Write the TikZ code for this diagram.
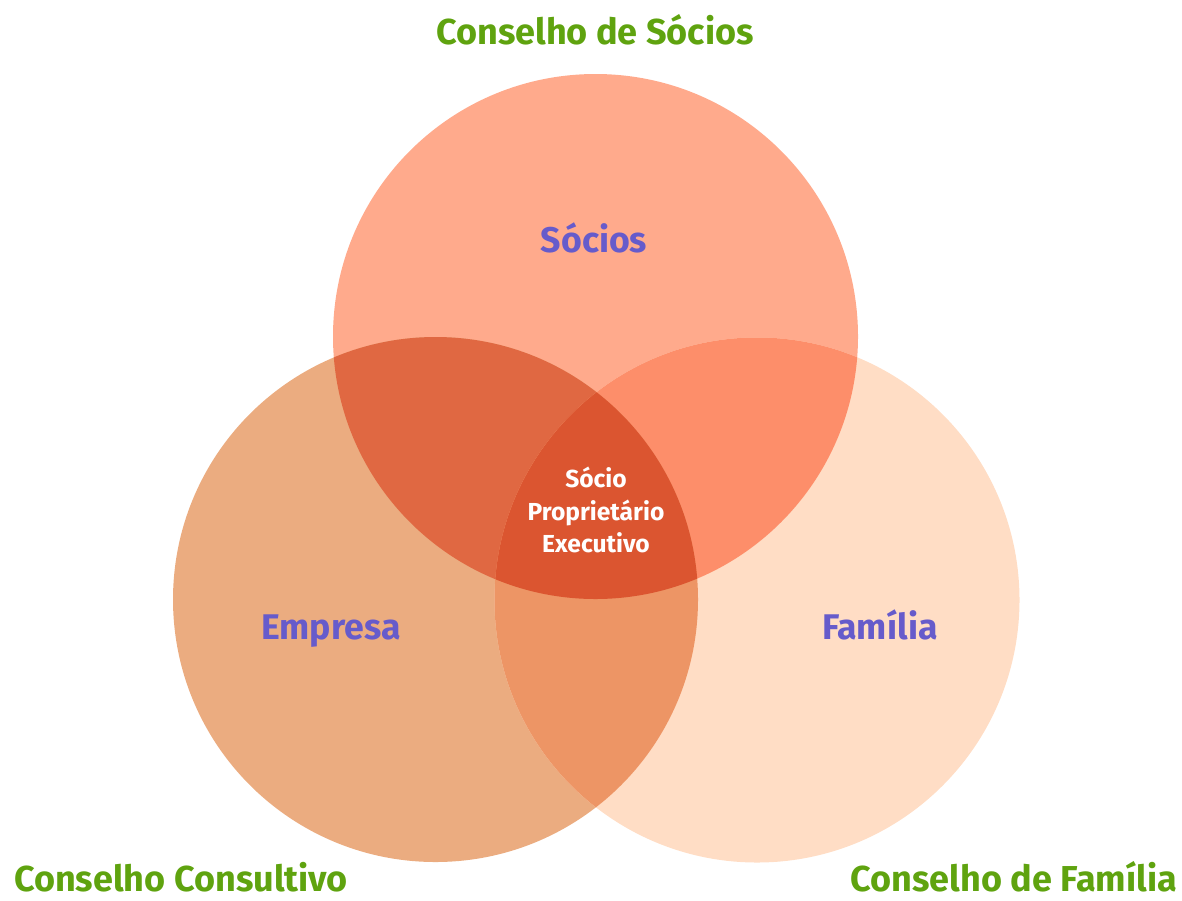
\documentclass[tikz,border=0pt]{standalone}
\usepackage{fontspec}
\setmainfont{Fira Sans}
\definecolor{socioscol}{HTML}{FFAA8C}
\definecolor{empresacol}{HTML}{EBAC80}
\definecolor{familiacol}{HTML}{FFDDC5}
\definecolor{secol}{HTML}{E06842}
\definecolor{sfcol}{HTML}{FD8E6A}
\definecolor{efcol}{HTML}{ED9565}
\definecolor{allcol}{HTML}{DB5530}
\definecolor{conselho}{HTML}{5FA30F}
\definecolor{papel}{HTML}{665BCB}
\begin{document}
\begin{tikzpicture}[
    x=0.02cm,
    y=-0.02cm,
    council/.style={
        text=conselho,
        inner sep=0pt,
        anchor=base,
        font=\fontsize{20.5}{22}\selectfont\bfseries
    },
    role/.style={
        text=papel,
        inner sep=0pt,
        anchor=base,
        font=\fontsize{20.3}{22}\selectfont\bfseries
    },
    core/.style={
        text=white,
        font=\fontsize{14}{18.7}\selectfont\bfseries,
        align=center
    }
]
\useasboundingbox (0,0) rectangle (1182,900);

% Circles
\def\rad{262.5}
\fill[socioscol] (595.5,336.5) circle (\rad);
\fill[empresacol] (435.5,599.5) circle (\rad);
\fill[familiacol] (757,600) circle (\rad);

% Overlaps
\begin{scope}
    \clip (595.5,336.5) circle (\rad);
    \fill[secol] (435.5,599.5) circle (\rad);
    \fill[sfcol] (757,600) circle (\rad);
\end{scope}
\begin{scope}
    \clip (435.5,599.5) circle (\rad);
    \fill[efcol] (757,600) circle (\rad);
    \clip (757,600) circle (\rad);
    \fill[allcol] (595.5,336.5) circle (\rad);
\end{scope}

% Roles
\node[role] (socios) at (594,252) {Sócios};
\node[role] (empresa) at (331,639) {Empresa};
\node[role] (familia) at (880,639) {Família};
\node[core] (centro) at (596,510) {Sócio\\Proprietário\\Executivo};

% Councils
\node[council] (cs) at (595,44) {Conselho de Sócios};
\node[council] (cc) at (181,891) {Conselho Consultivo};
\node[council] (cf) at (1014,891) {Conselho de Família};

\end{tikzpicture}
\end{document}
